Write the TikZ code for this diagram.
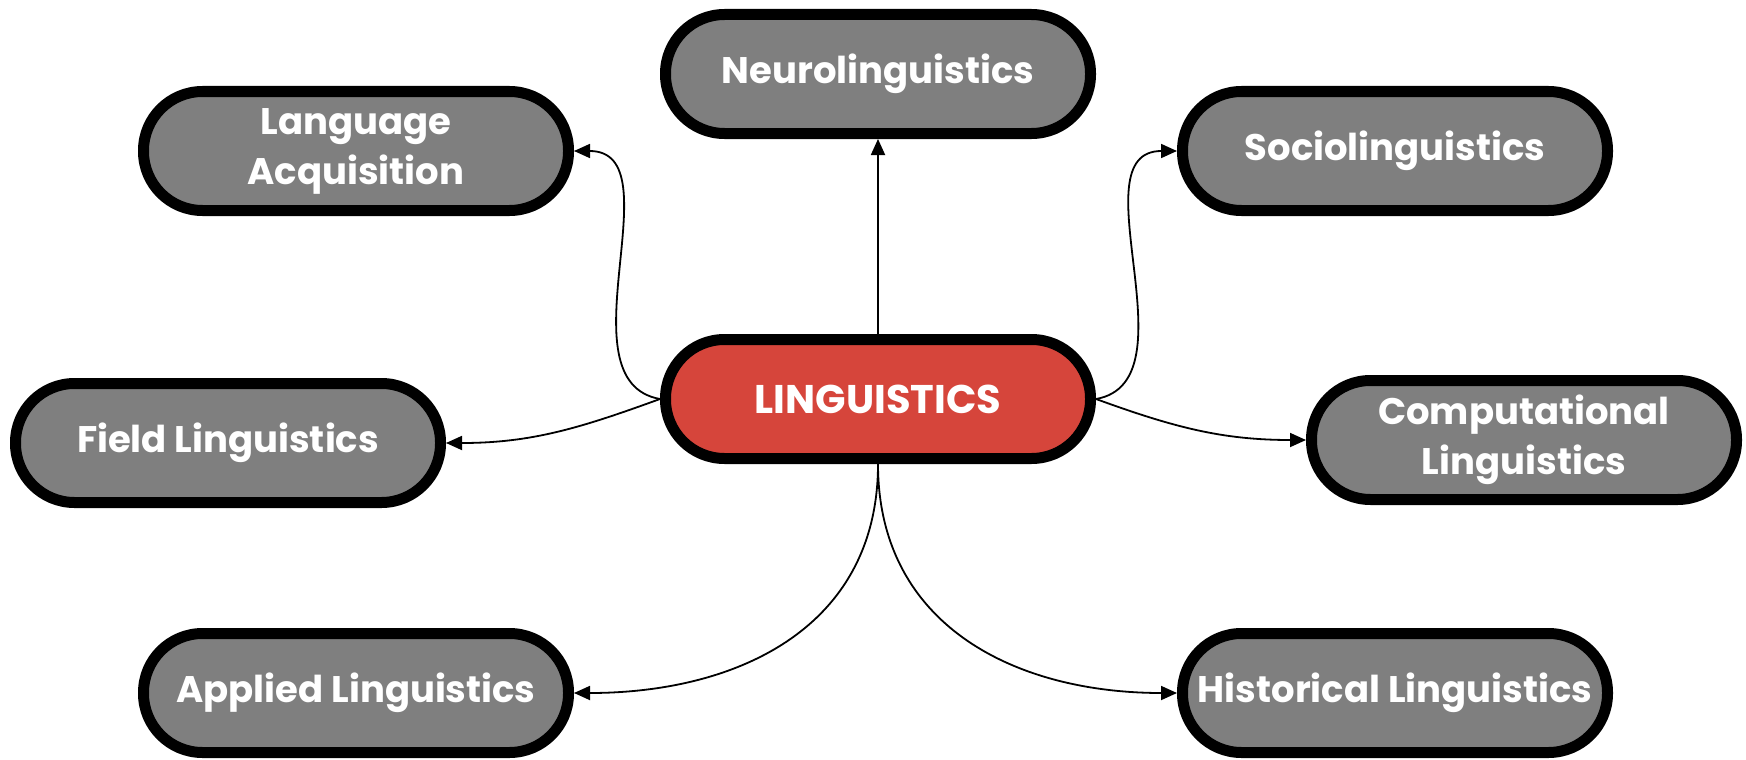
\documentclass[tikz,border=0pt]{standalone}
\usepackage{fontspec}
\setmainfont{Poppins}
\usetikzlibrary{arrows.meta}
\definecolor{boxgray}{HTML}{7F7F7F}
\definecolor{boxred}{HTML}{D6453B}
\tikzset{
  topic/.style={rectangle, rounded corners=59pt, draw=black, line width=11pt, fill=boxgray,
    minimum width=425pt, minimum height=119pt, inner sep=1pt, align=center,
    text=white, font=\fontsize{37}{50}\selectfont\bfseries},
  central/.style={topic, fill=boxred, font=\fontsize{40}{50}\selectfont\bfseries},
  link/.style={line width=1.8pt, -{Triangle[length=16pt,width=14pt]}}
}
\begin{document}
\begin{tikzpicture}[x=1pt,y=1pt]
\useasboundingbox (0,0) rectangle (1746,-760);
\node[central] (ling)  at (878,-399) {LINGUISTICS};
\node[topic]   (neuro) at (878,-74)  {Neurolinguistics};
\node[topic]   (lang)  at (356,-151) {Language\\Acquisition};
\node[topic]   (socio) at (1395,-151) {Sociolinguistics};
\node[topic]   (field) at (228,-443) {Field Linguistics};
\node[topic]   (comp)  at (1524,-440) {Computational\\Linguistics};
\node[topic]   (appl)  at (356,-693) {Applied Linguistics};
\node[topic]   (hist)  at (1395,-693) {Historical Linguistics};

\draw[link] (ling.north) -- (neuro.south);
\draw[link] (ling.west) to[out=170,in=0] (lang.east);
\draw[link] (ling.west) to[out=200,in=0] (field.east);
\draw[link] (ling.east) to[out=10,in=180] (socio.west);
\draw[link] (ling.east) to[out=-20,in=180] (comp.west);
\draw[link] (ling.south) to[out=-90,in=0,looseness=1.1] (appl.east);
\draw[link] (ling.south) to[out=-90,in=180,looseness=1.1] (hist.west);
\end{tikzpicture}
\end{document}
